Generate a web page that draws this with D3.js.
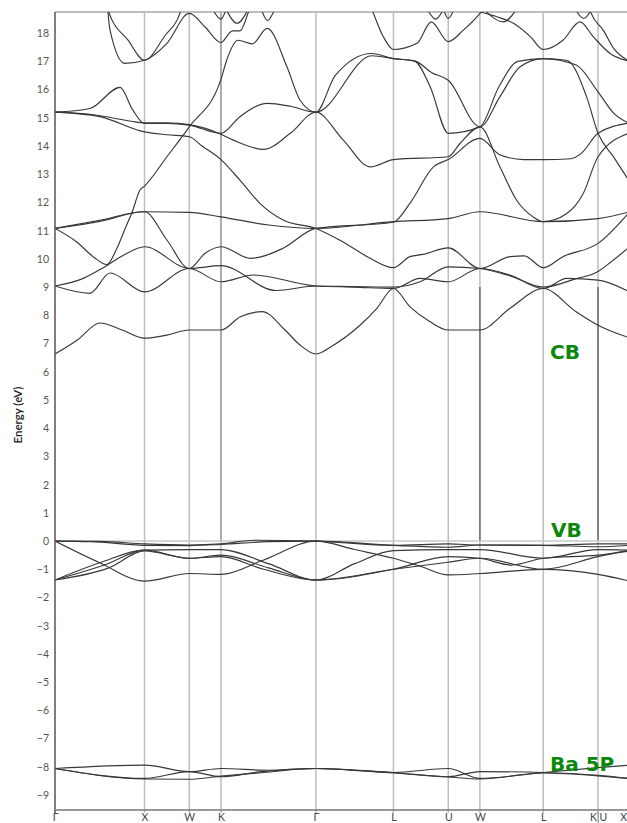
<!DOCTYPE html>
<html><head><meta charset="utf-8">
<script src="https://cdn.jsdelivr.net/npm/d3@7/dist/d3.min.js"></script>
<style>body{margin:0;background:#fff}svg{display:block}</style>
</head><body>
<svg id="c" width="627" height="823"></svg>
<script>
// ---- data ----
const kLabels = ["Γ","X","W","K","Γ","L","U","W","L","K|U","X"];
const kDist = [0,1,1.5,1.8536,2.9142,3.7802,4.3926,4.7462,5.4533,6.0656,6.4192];
const yTicks = [-9,-8,-7,-6,-5,-4,-3,-2,-1,0,1,2,3,4,5,6,7,8,9,10,11,12,13,14,15,16,17,18];
// band points: [path position in segment units, energy eV]
const ba1 = [[0,-8.06],[1,-7.94],[2,-8.17],[3,-8.06],[3.5,-8.12],[4,-8.06],[5,-8.2],[6,-8.06],[7,-8.41],[8,-8.2],[9,-8.03],[10,-7.94]];
const ba2 = [[0,-8.06],[1,-8.41],[2,-8.17],[3,-8.35],[3.4,-8.18],[4,-8.06],[5,-8.2],[6,-8.35],[7,-8.17],[8,-8.2],[9,-8.3],[10,-8.41]];
const ba3 = [[0,-8.06],[1,-8.43],[2,-8.44],[3,-8.33],[3.45,-8.2],[4,-8.06],[5,-8.22],[6,-8.36],[7,-8.43],[8,-8.22],[9,-8.32],[10,-8.42]];
const vb1 = [[0,0],[0.5,-0.01],[1,-0.1],[2,-0.14],[3,-0.1],[3.35,0.03],[4,0],[5,-0.15],[6,-0.1],[7,-0.14],[8,-0.15],[9,-0.1],[10,-0.1]];
const vb2 = [[0,0],[0.5,-0.77],[1,-1.42],[2,-1.15],[3,-1.18],[3.45,-0.67],[4,0],[4.5,-0.3],[5,-0.61],[5.5,-0.9],[6,-1.2],[7,-1.15],[8,-1.0],[9,-1.18],[10,-1.42]];
const vb3 = [[0,-1.38],[0.5,-0.77],[1,-0.32],[2,-0.61],[3,-0.5],[3.5,-0.95],[4,-1.38],[5,-1.0],[6,-0.55],[7,-0.61],[7.5,-0.85],[8,-0.61],[9,-0.5],[10,-0.35]];
const vb4 = [[0,-1.38],[0.6,-0.95],[1,-0.35],[2,-0.61],[3,-0.55],[3.45,-1.0],[4,-1.38],[5,-1.0],[6,-0.75],[7,-0.61],[8,-1.0],[9,-0.55],[10,-0.32]];
const vb5 = [[0,-1.38],[0.55,-0.85],[1,-0.32],[2,-0.3],[3,-0.3],[3.5,-0.8],[4,-1.38],[4.5,-0.8],[5,-0.34],[6,-0.3],[7,-0.3],[8,-0.61],[9,-0.3],[10,-0.32]];
const vb6 = [[0,0],[0.4,-0.02],[1,-0.15],[2,-0.16],[3,-0.12],[3.5,-0.02],[4,0],[5,-0.15],[6,-0.22],[7,-0.14],[8,-0.15],[9,-0.2],[10,-0.15]];
const cb1 = [[0,6.63],[0.246,7.12],[0.503,7.73],[0.75,7.48],[1,7.19],[1.5,7.3],[2,7.48],[3,7.48],[3.204,7.95],[3.435,8.13],[3.675,7.48],[3.832,6.95],[4,6.63],[4.2,6.9],[4.568,7.65],[4.787,8.25],[5,8.95],[5.303,8.3],[5.67,7.77],[6,7.48],[7,7.48],[7.476,8.25],[8,8.95],[8.6,8.13],[9,7.65],[10,7.2]];
const cb2 = [[0,9.04],[0.39,8.78],[0.615,9.5],[1,8.83],[2,9.66],[3,9.19],[3.34,9.43],[4,9.04],[4.5,9.0],[5,8.95],[5.486,9.31],[6,9.19],[7,9.66],[7.476,9.43],[8,8.95],[8.43,9.31],[9,9.25],[10,8.83]];
const cb3 = [[0,9.04],[0.316,9.31],[0.54,9.69],[0.764,10.13],[1,10.43],[2,9.66],[3,9.76],[3.58,8.88],[4,9.04],[4.5,9.02],[5,9.0],[5.486,9.19],[6,9.72],[7,9.66],[7.476,9.4],[8,9.0],[8.6,9.3],[9,9.55],[9.28,9.78],[10,10.43]];
const cb4 = [[0,11.08],[0.243,10.6],[0.43,10.07],[0.58,9.8],[0.69,10.37],[0.8,11.2],[0.856,11.61],[0.95,12.44],[1,12.58],[1.5,13.62],[2,14.68],[3,16.36],[3.06,17.04],[3.18,17.75],[3.33,17.62],[3.487,18.17],[3.696,16.8],[3.832,15.63],[4,15.2],[4.25,16.5],[4.72,17.28],[5,17.1],[5.39,17.02],[5.7,16.6],[6,16.33],[7,14.68],[7.317,15.75],[7.635,16.81],[8,17.1],[8.43,17.04],[8.79,15.75],[9,14.45],[9.5,13.6],[10,12.73]];
const cb5 = [[0,15.2],[0.39,15.33],[0.726,16.08],[0.87,15.27],[1,14.8],[1.5,14.8],[2,14.74],[3,14.45],[3.2,15.04],[3.487,15.51],[3.73,15.41],[4,15.2],[4.72,17.2],[5,17.1],[5.39,17.0],[5.67,16.1],[6,14.45],[7,14.68],[7.3,16.1],[7.6,17.0],[8,17.1],[8.6,16.87],[9,15.92],[9.5,15.16],[10,14.8]];
const cb6 = [[0,15.2],[0.5,15.04],[1,14.5],[1.5,14.4],[2,14.33],[2.4,14.0],[3,13.52],[3.2,12.79],[3.41,11.97],[3.66,11.37],[4,11.08],[4.35,10.6],[4.7,10.02],[5,9.69],[5.3,10.08],[5.54,10.16],[6,10.39],[7,9.66],[7.476,10.08],[7.7,10.11],[8,9.69],[8.36,10.08],[9,10.55],[10,11.67]];
const cb7 = [[0,11.08],[0.5,11.37],[1,11.67],[2,11.65],[3,11.49],[3.5,11.2],[4,11.08],[5,11.32],[6,11.43],[7,11.67],[8,11.32],[9,11.43],[10,11.67]];
const cb8 = [[0,11.08],[0.5,11.33],[1,11.67],[1.5,10.67],[2,9.66],[2.5,10.2],[3,10.43],[3.31,10.02],[3.65,10.37],[4,11.08],[5,11.3],[5.3,11.97],[5.73,13.26],[6,13.52],[7,14.27],[7.32,13.68],[7.7,13.52],[8,13.52],[8.5,13.55],[8.7,13.75],[9,14.45],[10,14.82]];
const cb9 = [[0,15.2],[0.45,15.1],[0.85,14.88],[1,14.82],[1.5,14.82],[2,14.76],[3,14.42],[3.13,14.21],[3.45,13.88],[3.73,14.45],[4,15.2],[4.353,14.21],[4.7,13.26],[5,13.52],[6,13.62],[6.37,14.09],[7,14.68],[7.317,13.26],[7.58,12.08],[7.84,11.49],[8,11.32],[8.43,11.61],[8.73,12.32],[9,13.62],[10,14.47]];
const cb10 = [[0.58,19.2],[0.615,18.1],[0.78,16.93],[1,17.04],[1.5,17.64],[2,18.7],[2.5,18.22],[3,17.67],[3.12,18.08],[3.2,18.08],[3.29,18.75],[3.35,19.3]];
const cb11 = [[0.56,19.2],[0.6,18.75],[0.816,17.75],[1,17.04],[1.45,17.9],[1.8,18.75],[1.9,19.3]];
const cb12 = [[4.6,19.6],[4.72,18.85],[4.87,17.87],[5,17.42],[5.43,17.64],[5.69,18.4],[6,17.7],[6.47,18.1],[7,18.7],[7.1,19.0]];
const cb13 = [[7,18.75],[7.27,18.58],[7.53,18.35],[7.8,17.87],[8,17.42],[8.36,17.75],[8.67,18.4],[8.915,17.87],[9.38,17.28],[10,17.0]];
const cb14 = [[8.8,19.2],[8.855,18.8],[9.167,18.1],[9.5,17.45],[10,17.0]];
const topDips = [
  [[2.76,18.8],[3.0,18.5],[3.05,18.8]],
  [[3.06,18.8],[3.17,18.35],[3.28,18.8]],
  [[3.43,18.8],[3.49,18.45],[3.56,18.8]],
  [[5.63,18.8],[5.77,18.5],[5.9,18.8]],
  [[5.92,18.8],[6.0,18.52],[6.16,18.8]],
  [[7.06,18.85],[7.37,18.4],[7.58,18.85]],
  [[8.6,18.8],[8.74,18.52],[8.87,18.8]]
];
const bandLabels = [["CB",550,359],["VB",551,537],["Ba 5P",550,771]];

const allBands = [ba1,ba2,ba3,vb1,vb2,vb3,vb4,vb5,vb6,cb1,cb2,cb3,cb4,cb5,cb6,cb7,cb8,cb9,cb10,cb11,cb12,cb13,cb14,...topDips];

// ---- layout ----
const padL = 55, padT = 12, padB = 810, rightEnd = 629.7, W = 627;
const svg = d3.select("#c");
const kx = d3.scaleLinear().domain([0, kDist[kDist.length-1]]).range([padL, rightEnd]);
const xs = d3.scaleLinear().domain(d3.range(kDist.length)).range(kDist.map(kx));
const ys = d3.scaleLinear().domain([-9.53, 18.75]).range([padB, padT]);

svg.append("defs").append("clipPath").attr("id","clip")
  .append("rect").attr("x",padL).attr("y",padT).attr("width",rightEnd-padL).attr("height",padB-padT);

// vertical high-symmetry lines
svg.append("g").selectAll("line").data(kDist.slice(1)).join("line")
  .attr("x1",(d,i)=>xs(i+1)).attr("x2",(d,i)=>xs(i+1))
  .attr("y1",padT).attr("y2",padB+3)
  .attr("stroke","#bdbdbd").attr("stroke-width",1.5);
// darker segments
svg.append("line").attr("x1",xs(3)).attr("x2",xs(3)).attr("y1",padT).attr("y2",ys(0))
  .attr("stroke","#9a9a9a").attr("stroke-width",1.3);
[7,9].forEach(i=>{
  svg.append("line").attr("x1",xs(i)).attr("x2",xs(i)).attr("y1",ys(9.0)).attr("y2",ys(0))
    .attr("stroke","#555").attr("stroke-width",1.2);
});
// top border & zero line
svg.append("line").attr("x1",padL).attr("x2",W).attr("y1",padT).attr("y2",padT)
  .attr("stroke","#bdbdbd").attr("stroke-width",2);
svg.append("line").attr("x1",padL).attr("x2",W).attr("y1",ys(0)).attr("y2",ys(0))
  .attr("stroke","#c8c8c8").attr("stroke-width",1.5);

// bands
const line = d3.line().x(d=>xs(d[0])).y(d=>ys(d[1])).curve(d3.curveMonotoneX);
svg.append("g").attr("clip-path","url(#clip)").selectAll("path").data(allBands).join("path")
  .attr("d",line).attr("fill","none").attr("stroke","#383838").attr("stroke-width",1.15);

// axes
const yAxis = d3.axisLeft(ys).tickValues(yTicks).tickSize(0).tickPadding(6);
const gy = svg.append("g").attr("transform",`translate(${padL},0)`).call(yAxis);
gy.select(".domain").remove();
gy.selectAll("text").attr("font-family","Lato, 'Open Sans', sans-serif").attr("font-size",10.5).attr("fill","#555");
svg.append("line").attr("x1",padL).attr("x2",padL).attr("y1",padT).attr("y2",padB+3)
  .attr("stroke","#555").attr("stroke-width",1.5);
svg.append("line").attr("x1",padL).attr("x2",W).attr("y1",padB).attr("y2",padB)
  .attr("stroke","#777").attr("stroke-width",1.5);

const xAxis = d3.axisBottom(xs).tickValues(d3.range(kLabels.length)).tickFormat(i=>kLabels[i]).tickSize(0).tickPadding(4);
const gx = svg.append("g").attr("transform",`translate(0,${padB})`).call(xAxis);
gx.select(".domain").remove();
gx.selectAll("text").attr("font-family","Lato, 'Open Sans', sans-serif").attr("font-size",10.5).attr("fill","#444");
// keep the last label inside the window
gx.selectAll(".tick").filter((d,i)=>i===kLabels.length-1).select("text")
  .attr("text-anchor","end").attr("dx", W - xs(kLabels.length-1) - 0.5);

svg.append("text").attr("transform",`translate(22,415) rotate(-90)`)
  .attr("text-anchor","middle").attr("font-family","Lato, sans-serif").attr("font-size",11.5)
  .attr("font-weight",600).attr("fill","#222").text("Energy (eV)");

svg.append("g").selectAll("text").data(bandLabels).join("text")
  .attr("x",d=>d[1]).attr("y",d=>d[2]).text(d=>d[0])
  .attr("font-family","'DejaVu Sans', sans-serif").attr("font-weight","bold").attr("font-size",20)
  .attr("fill","#0a880a");
</script>
</body></html>
